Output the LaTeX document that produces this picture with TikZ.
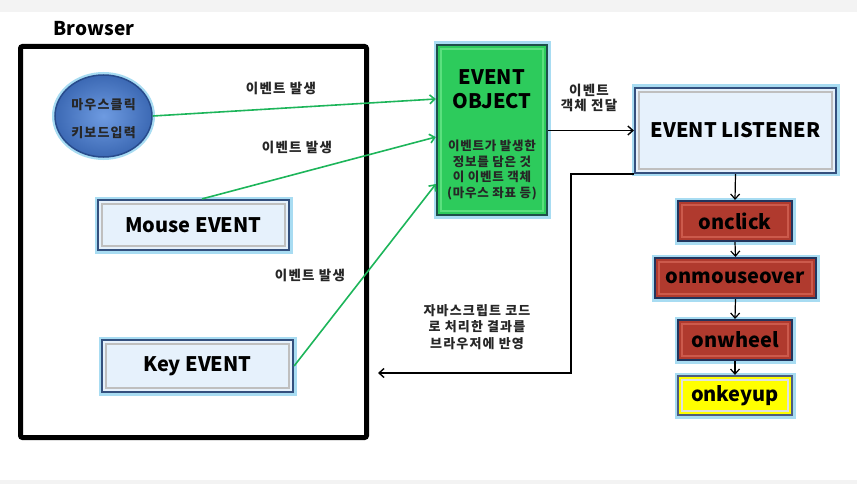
\documentclass[tikz,border=0pt]{standalone}
\usepackage{fontspec}
\setmainfont{Noto Sans CJK KR}
\newfontfamily\krwide{Noto Sans CJK KR}[LetterSpace=9]
\newfontfamily\krmid{Noto Sans CJK KR}[LetterSpace=6]
\usetikzlibrary{arrows.meta,shapes.geometric}
\definecolor{glow}{HTML}{A8DCF2}
\definecolor{lbfill}{HTML}{E6F1FC}
\definecolor{lbline}{HTML}{34507E}
\definecolor{redfill}{HTML}{B03A2E}
\definecolor{redin}{HTML}{CC5A4C}
\definecolor{navy}{HTML}{22355E}
\definecolor{grnfill}{HTML}{2DCB5C}
\definecolor{grnin}{HTML}{5BE07E}
\definecolor{grnline}{HTML}{1E4F4A}
\definecolor{arrgreen}{HTML}{1DB55A}
\definecolor{ylw}{HTML}{FFFF00}
\definecolor{bggray}{HTML}{F3F3F3}
\definecolor{cin}{RGB}{110,155,225}
\definecolor{cout}{RGB}{60,105,180}
\definecolor{cline}{RGB}{40,75,140}
\tikzset{
  big/.style={font=\fontsize{20}{22}\selectfont\bfseries},
  lbl/.style={font=\krwide\fontsize{13.5}{15}\selectfont\bfseries, text=black!85},
  glowbox/.style={preaction={draw=glow, line width=7pt}, line width=2.2pt, inner sep=0pt},
  bevel/.style={path picture={\draw[#1, line width=1.2pt]
     ([shift={(4pt,-4pt)}]path picture bounding box.north west) rectangle
     ([shift={(-4pt,4pt)}]path picture bounding box.south east);}},
  bluebox/.style={glowbox, draw=lbline, fill=lbfill, bevel=black!25, big},
  redbox/.style={glowbox, draw=navy, fill=redfill, bevel=redin, big, minimum height=40pt},
  ylwbox/.style={glowbox, draw=navy!80, fill=ylw, bevel=black!12, big, minimum height=39pt},
  garr/.style={draw=arrgreen, line width=1.6pt, -{Straight Barb[length=5pt,width=9pt]}},
  karr/.style={draw=black, line width=1.4pt, -{Straight Barb[length=5pt,width=9pt]}},
}
\begin{document}
\begin{tikzpicture}[x=1pt,y=-1pt]
\useasboundingbox (0,0) rectangle (857,484);
\fill[bggray] (0,0) rectangle (857,12);
\fill[bggray] (0,480) rectangle (857,484);

% browser frame
\node (browser) [draw, line width=5pt, rounded corners=2pt, minimum width=346pt, minimum height=391pt, inner sep=0pt] at (193.5,242) {};
\node (browserlbl) [font=\fontsize{19}{21}\selectfont\bfseries] at (94,29) {Browser};

% input circle
\node (circ) [ellipse, preaction={draw=glow, line width=6pt}, inner color=cin, outer color=cout, draw=cline, line width=1.5pt, minimum width=97pt, minimum height=82pt, inner sep=0pt] at (103.5,116) {};
\node (circt) [font=\krwide\fontsize{13}{28}\selectfont\bfseries, text=black!85, align=center] at (103.5,119) {마우스클릭\\키보드입력};

% left boxes
\node (mouse) [bluebox, minimum width=191pt, minimum height=50pt] at (193.5,225) {Mouse EVENT};
\node (key) [bluebox, minimum width=191pt, minimum height=52pt] at (197.5,366) {Key EVENT};

% event object
\node (eo) [glowbox, draw=grnline, fill=grnfill, bevel=grnin, minimum width=110pt, minimum height=170pt] at (492,130) {};
\node (eot) [align=center, font=\fontsize{20}{24}\selectfont\bfseries] at (492,89) {EVENT\\OBJECT};
\node (eok) [font=\krmid\fontsize{12.5}{15.5}\selectfont\bfseries, text=black!85, align=center] at (492,170) {이벤트가 발생한\\정보를 담은 것\\이 이벤트 객체\\(마우스 좌표 등)};

% listener
\node (lis) [bluebox, minimum width=201pt, minimum height=85pt] at (735.5,130.5) {EVENT LISTENER};

% handlers
\node (onclick) [redbox, minimum width=114pt] at (735,221) {onclick};
\node (onmo) [redbox, minimum width=161pt] at (735.5,278) {onmouseover};
\node (onwh) [redbox, minimum width=114pt] at (735,340) {onwheel};
\node (onku) [ylwbox, minimum width=114pt] at (735,395.5) {onkeyup};

% green arrows
\draw[garr] (circ.east) -- ([yshift=31pt]eo.west);
\draw[garr] ([xshift=8.5pt]mouse.north) -- ([yshift=-7pt]eo.west);
\draw[garr] (key.east) -- ([yshift=-54pt]eo.west);

\node (l1) [lbl] at (281,88) {이벤트 발생};
\node (l2) [lbl] at (297,147) {이벤트 발생};
\node (l3) [lbl] at (310,275) {이벤트 발생};

% object -> listener
\draw[karr] (eo.east |- lis.west) -- (lis.west);
\node (l4) [lbl, align=center, font=\krwide\fontsize{13.5}{14.5}\selectfont\bfseries] at (589,98) {이벤트\\객체 전달};

% chain
\draw[karr, line width=1.2pt] (lis.south) -- (onclick.north);
\draw[karr, line width=1.2pt] (onclick.south) -- (onmo.north);
\draw[karr, line width=1.2pt] (onmo.south) -- (onwh.north);
\draw[karr, line width=1.2pt] (onwh.south) -- (onku.north);

% return
\coordinate (ret) at (378,373);
\draw[karr] (lis.south west) -- ++(-63,0) |- (ret);
\node (l5) [lbl, align=center, font=\krwide\fontsize{13}{16.5}\selectfont\bfseries] at (477,327) {자바스크립트 코드\\로 처리한 결과를\\브라우저에 반영};
\end{tikzpicture}
\end{document}
